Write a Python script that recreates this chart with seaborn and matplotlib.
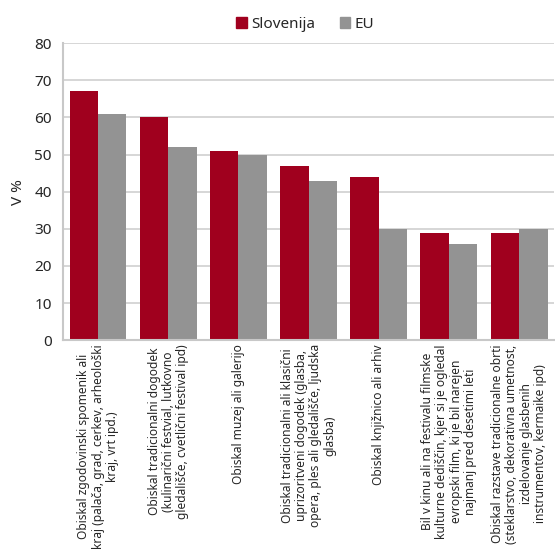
import pandas as pd
import seaborn as sns
import matplotlib.pyplot as plt

# Data
labels = [
    "Obiskal zgodovinski spomenik ali\nkraj (palača, grad, cerkev, arheološki\nkraj, vrt ipd.)",
    "Obiskal tradicionalni dogodek\n(kulinarični festvial, lutkovno\ngledališče, cvetlični festival ipd)",
    "Obiskal muzej ali galerijo",
    "Obiskal tradicionalni ali klasični\nuprizoritveni dogodek (glasba,\nopera, ples ali gledališče, ljudska\nglasba)",
    "Obiskal knjižnico ali arhiv",
    "Bil v kinu ali na festivalu filmske\nkulturne dediščin, kjer si je ogledal\nevropski film, ki je bil narejen\nnajmanj pred desetimi leti",
    "Obiskal razstave tradicionalne obrti\n(steklarstvo, dekorativna umetnost,\nizdelovanje glasbenih\ninstrumentov, kermaike ipd)",
]
slovenija = [67, 60, 51, 47, 44, 29, 29]
eu = [61, 52, 50, 43, 30, 26, 30]
series = ["Slovenija", "EU"]
colors = ["#A0001E", "#939393"]

df = pd.DataFrame({"cat": labels, "Slovenija": slovenija, "EU": eu})
df = df.melt(id_vars="cat", var_name="serija", value_name="val")

sns.set_style("white")
plt.rcParams['font.family'] = ['Noto Sans', 'DejaVu Sans']

fig = plt.figure(figsize=(5.55, 5.54), dpi=100)
ax = fig.add_axes([0.1135, 0.386, 0.885, 0.536])

sns.barplot(data=df, x="cat", y="val", hue="serija", hue_order=series,
            palette=colors, width=0.81, saturation=1, linewidth=0,
            ax=ax, legend=False)

ax.set_ylim(0, 80)
ax.set_yticks(range(0, 81, 10))
ax.yaxis.grid(True, color="#D0D0D0", linewidth=1.2)
ax.set_axisbelow(True)
for s in ["top", "right"]:
    ax.spines[s].set_visible(False)
for s in ["left", "bottom"]:
    ax.spines[s].set_color("#C8C8C8")
    ax.spines[s].set_linewidth(1.5)

ax.tick_params(axis="y", labelsize=11, length=0, pad=8)
ax.tick_params(axis="x", length=0, pad=3)
ax.set_xticks(range(len(labels)))
ax.set_xticklabels(labels, rotation=90, ha="center", va="top",
                   multialignment="center", fontsize=8.6, linespacing=1.12)
ax.set_xlabel("")
ax.set_ylabel("V %", fontsize=11, labelpad=6)

handles = [plt.Rectangle((0, 0), 1, 1, color=c) for c in colors]
fig.legend(handles, series, loc="upper center", bbox_to_anchor=(0.55, 0.995),
           ncol=2, frameon=False, fontsize=11, handlelength=0.7,
           handleheight=0.7, handletextpad=0.3, columnspacing=1.6)

fig.savefig("out.png", dpi=100)
